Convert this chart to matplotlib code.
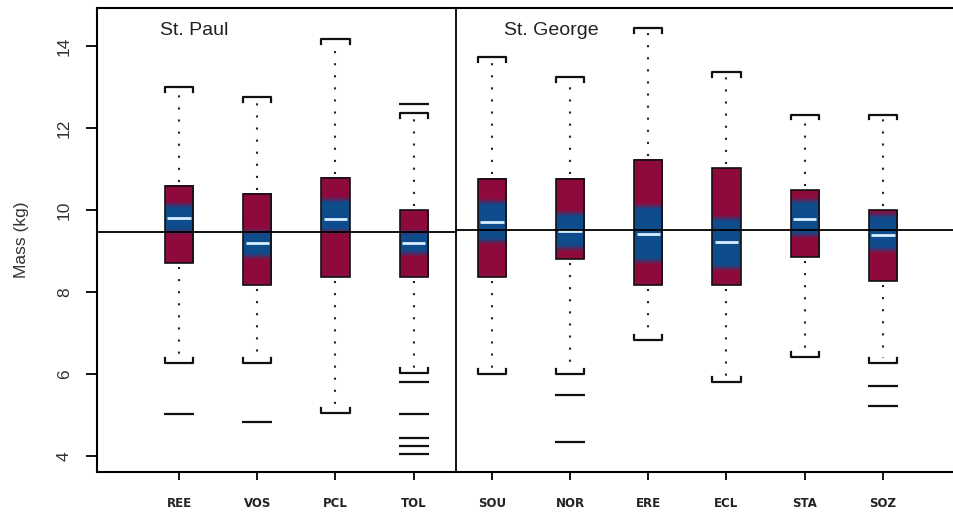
import numpy as np
import matplotlib
matplotlib.use("Agg")
import matplotlib.pyplot as plt
from matplotlib.colors import to_rgb

# ---------------- data ----------------
categories = ["REE", "VOS", "PCL", "TOL", "SOU", "NOR", "ERE", "ECL", "STA", "SOZ"]
q1 = [8.71, 8.17, 8.36, 8.37, 8.37, 8.81, 8.17, 8.17, 8.86, 8.27]
q3 = [10.59, 10.40, 10.78, 10.00, 10.77, 10.77, 11.22, 11.02, 10.49, 9.99]
medians = [9.80, 9.20, 9.79, 9.20, 9.70, 9.49, 9.41, 9.21, 9.79, 9.40]
ci_lo = [9.46, 8.86, 9.47, 8.94, 9.23, 9.07, 8.74, 8.58, 9.39, 9.02]
ci_hi = [10.12, 9.47, 10.24, 9.47, 10.20, 9.92, 10.08, 9.80, 10.24, 9.88]
whisk_lo = [6.26, 6.26, 5.04, 6.02, 6.00, 6.00, 6.83, 5.81, 6.42, 6.26]
whisk_hi = [13.01, 12.76, 14.17, 12.37, 13.74, 13.24, 14.43, 13.37, 12.33, 12.33]
outliers = {
    "REE": [5.02],
    "VOS": [4.82],
    "TOL": [12.58, 5.80, 5.02, 4.43, 4.24, 4.05],
    "NOR": [5.50, 4.33],
    "SOZ": [5.70, 5.21],
}
group_names = ["St. Paul", "St. George"]
group_means = [9.46, 9.505]
yticks = [4, 6, 8, 10, 12, 14]

# ---------------- style ----------------
RED = np.array(to_rgb("#8e0a3c"))
BLUE = np.array(to_rgb("#0f4c8c"))
MED = "#d8efff"
BW = 0.36
CAPD = 0.12

fig = plt.figure(figsize=(9.54, 5.16), dpi=100)
ax = fig.add_axes([97 / 954, 44 / 516, 1 - 97 / 954, 464 / 516])

xpos = np.arange(1, len(categories) + 1)
XL, XR = -0.05, 10.91
YB, YT = 3.61, 14.93
divider = 4.54

for i, cat in enumerate(categories):
    x = xpos[i]
    lo, hi = q1[i], q3[i]
    # gradient box
    ys = np.linspace(hi, lo, 200)
    fade = 0.16
    t = np.clip(np.minimum(ys - ci_lo[i], ci_hi[i] - ys) / fade + 0.5, 0, 1)
    cols = (1 - t)[:, None] * RED + t[:, None] * BLUE
    img = np.repeat(cols[:, None, :], 2, axis=1)
    ax.imshow(img, extent=[x - BW / 2, x + BW / 2, lo, hi], aspect="auto",
              interpolation="bilinear", zorder=2)
    ax.add_patch(plt.Rectangle((x - BW / 2, lo), BW, hi - lo, fill=False,
                               ec="#111111", lw=1.2, zorder=3))
    # median
    ax.plot([x - BW / 2 + 0.03, x + BW / 2 - 0.03], [medians[i]] * 2,
            color=MED, lw=2.0, zorder=4, solid_capstyle="butt")
    # dotted whiskers
    for a, b in [(hi + 0.1, whisk_hi[i] - 0.12), (lo - 0.1, whisk_lo[i] + 0.12)]:
        ax.plot([x, x], [a, b], color="#222222", lw=1.5,
                linestyle=(0, (1, 4.8)), zorder=3)
    # caps (brackets)
    ax.plot([x - BW / 2, x - BW / 2, x + BW / 2, x + BW / 2],
            [whisk_hi[i] - CAPD, whisk_hi[i], whisk_hi[i], whisk_hi[i] - CAPD],
            color="#111111", lw=1.6, zorder=3)
    ax.plot([x - BW / 2, x - BW / 2, x + BW / 2, x + BW / 2],
            [whisk_lo[i] + CAPD, whisk_lo[i], whisk_lo[i], whisk_lo[i] + CAPD],
            color="#111111", lw=1.6, zorder=3)
    # outliers
    for o in outliers.get(cat, []):
        ax.plot([x - BW / 2 - 0.01, x + BW / 2 + 0.01], [o, o],
                color="#111111", lw=1.6, zorder=3, solid_capstyle="butt")

# group reference lines
ax.plot([XL, divider], [group_means[0]] * 2, color="black", lw=1.3, zorder=5)
ax.plot([divider, XR], [group_means[1]] * 2, color="black", lw=1.3, zorder=5)
ax.axvline(divider, color="black", lw=1.3, zorder=5)

ax.text(0.76, 14.37, group_names[0], fontsize=14, family="Liberation Sans",
        color="#222222", va="center", ha="left")
ax.text(5.15, 14.37, group_names[1], fontsize=14, family="Liberation Sans",
        color="#222222", va="center", ha="left")

ax.set_xlim(XL, XR)
ax.set_ylim(YB, YT)
ax.set_xticks(xpos)
ax.set_xticklabels(categories, fontsize=8.5, fontweight="bold",
                   family="DejaVu Sans", color="#222222")
ax.set_yticks(yticks)
ax.set_yticklabels([str(v) for v in yticks], rotation=90, va="center",
                   fontsize=12.5, family="Liberation Sans", color="#333333")
ax.set_ylabel("Mass (kg)", fontsize=12.5, family="Liberation Sans",
              color="#333333", labelpad=20)
ax.tick_params(axis="y", length=8, width=1.3, pad=10)
ax.tick_params(axis="x", length=6, width=1.3, pad=12)
for s in ["left", "bottom", "top"]:
    ax.spines[s].set_linewidth(1.5)
ax.spines["right"].set_visible(False)

fig.savefig("out.png", dpi=100)
